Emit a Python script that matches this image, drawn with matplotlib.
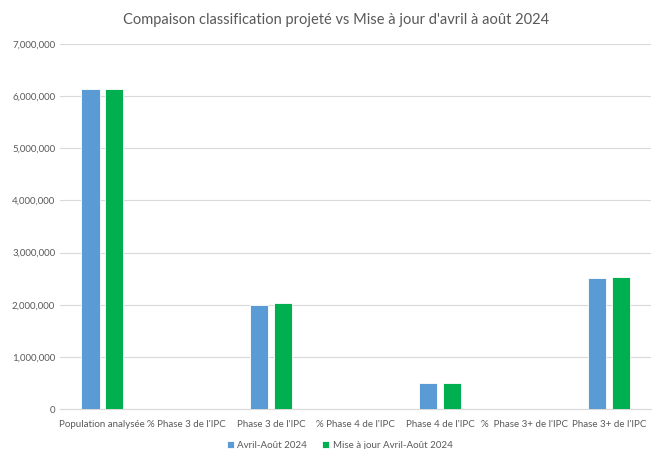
import matplotlib.pyplot as plt
import numpy as np
from matplotlib.ticker import FuncFormatter

plt.rcParams['font.family'] = ['Lato', 'DejaVu Sans']

categories = ["Population analysée", "% Phase 3 de l'IPC", "Phase 3 de l'IPC",
              "% Phase 4 de l'IPC", "Phase 4 de l'IPC", "%  Phase 3+ de l'IPC",
              "Phase 3+ de l'IPC"]
avril_aout = [6130000, 0, 2000000, 0, 505000, 0, 2505000]
mise_a_jour = [6130000, 0, 2030000, 0, 490000, 0, 2530000]
series_names = ["Avril-Août 2024", "Mise à jour Avril-Août 2024"]

blue = "#5B9BD5"
green = "#00B050"
gray = "#595959"

fig = plt.figure(figsize=(6.53, 4.49), dpi=100)
ax = fig.add_axes([0.092, 0.089, 0.905, 0.813])

x = np.arange(len(categories))
w = 0.215
ax.bar(x - 0.14, avril_aout, w, color=blue, edgecolor="white", linewidth=0.6,
       label=series_names[0], zorder=3)
ax.bar(x + 0.14, mise_a_jour, w, color=green, edgecolor="white", linewidth=0.6,
       label=series_names[1], zorder=3)

ax.set_xlim(-0.5, len(categories) - 0.5)
ax.set_ylim(0, 7000000)
ax.set_yticks(np.arange(0, 7000001, 1000000))
ax.yaxis.set_major_formatter(FuncFormatter(lambda v, p: f"{int(v):,}"))
ax.set_xticks(x)
ax.set_xticklabels(categories)
ax.tick_params(axis="both", length=0, labelsize=7, colors=gray)
ax.tick_params(axis="x", pad=8)
ax.grid(axis="y", color="#D9D9D9", linewidth=0.8, zorder=0)
for s in ["top", "right", "left"]:
    ax.spines[s].set_visible(False)
ax.spines["bottom"].set_color("#D9D9D9")

fig.suptitle("Compaison classification projeté vs Mise à jour d'avril à août 2024",
             x=0.515, y=0.97, fontsize=10.5, color=gray)

fig.legend(loc="lower center", bbox_to_anchor=(0.52, -0.022), ncol=2, frameon=False,
           fontsize=7, handlelength=0.7, handleheight=0.7, columnspacing=1.5,
           handletextpad=0.4, labelcolor=gray)

fig.savefig("out.png", dpi=100, facecolor="white")
